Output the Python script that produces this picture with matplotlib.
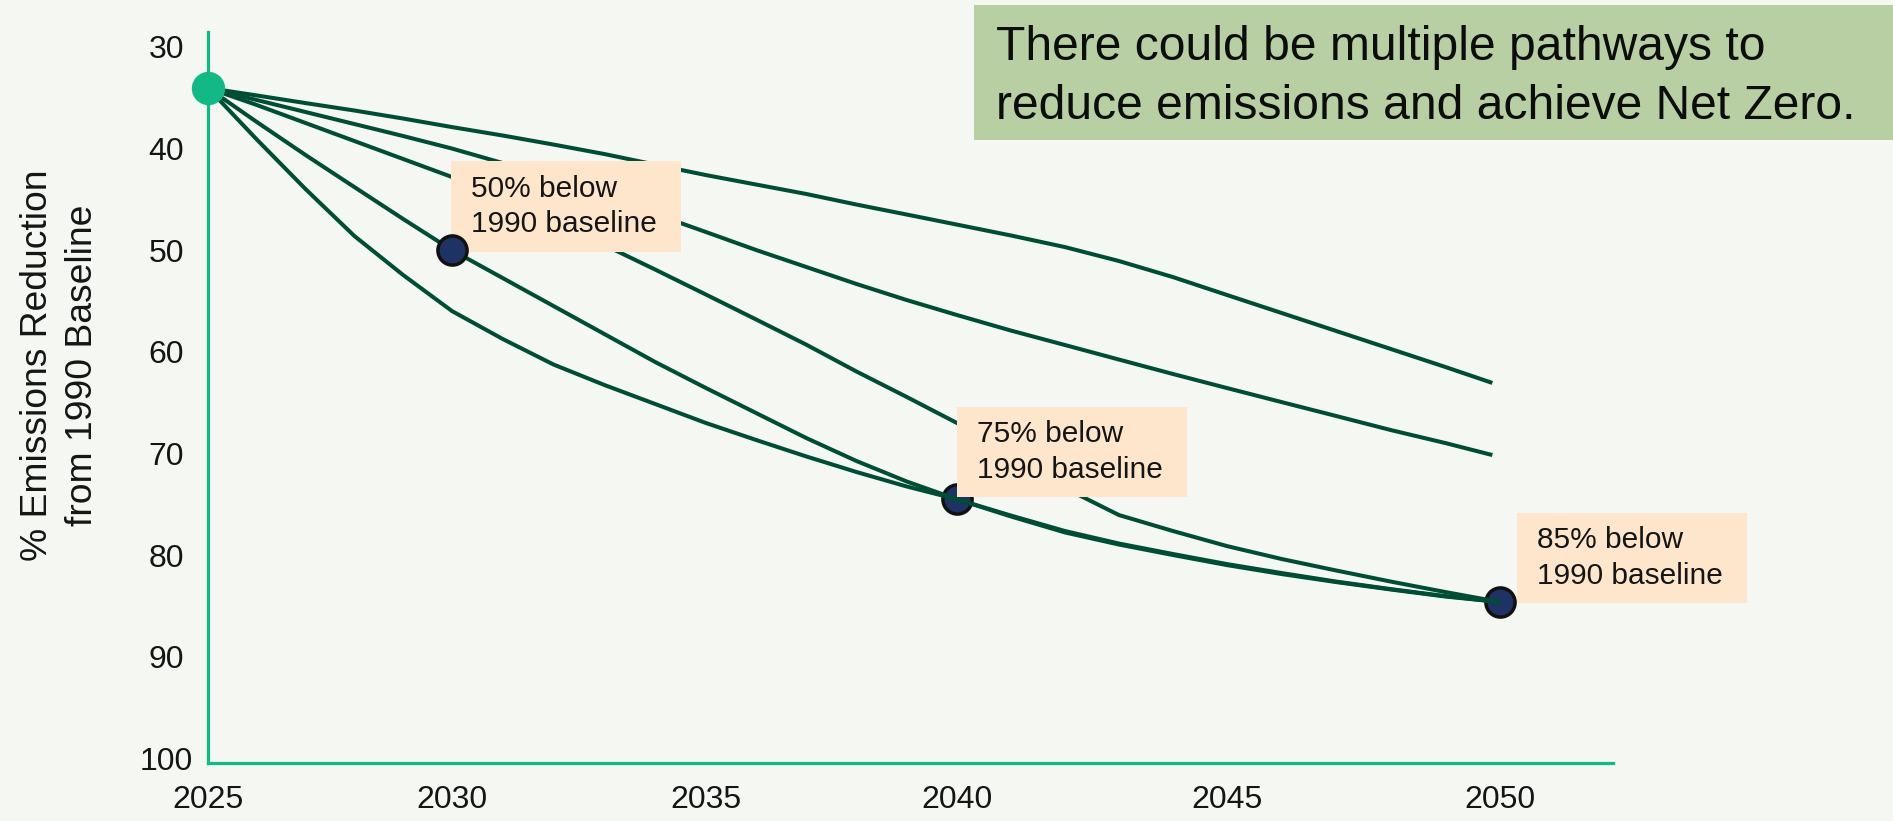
import numpy as np
import matplotlib
matplotlib.use("Agg")
import matplotlib.pyplot as plt
from matplotlib.patches import Rectangle

plt.rcParams["font.family"] = ["Liberation Sans", "DejaVu Sans"]

# ----------------------------------------------------- data
years = list(range(2025, 2051))
end_year_ab = 2049.86          # the two upper pathways stop just short of 2050

path_a = [34.06, 34.79, 35.54, 36.27, 37.06, 37.90, 38.73, 39.62, 40.55, 41.59,
          42.62, 43.55, 44.48, 45.52, 46.50, 47.49, 48.56, 49.70, 51.07, 52.65,
          54.41, 56.18, 57.95, 59.72, 61.49, 63.06]
path_b = [34.06, 35.24, 36.42, 37.60, 38.78, 40.01, 41.44, 43.06, 44.73, 46.45,
          48.22, 49.99, 51.66, 53.33, 54.91, 56.38, 57.91, 59.33, 60.76, 62.18,
          63.56, 64.94, 66.31, 67.69, 68.97, 70.15]
path_c = [34.06, 35.73, 37.50, 39.27, 41.04, 42.81, 44.93, 47.19, 49.50, 51.91,
          54.37, 56.82, 59.30, 61.94, 64.44, 67.00, 70.25, 73.40, 76.05, 77.62,
          79.10, 80.37, 81.50, 82.59, 83.62, 84.60]
path_d = [34.06, 37.40, 40.65, 43.80, 46.94, 50.00, 52.75, 55.50, 58.25, 61.00,
          63.56, 66.02, 68.48, 70.74, 72.75, 74.50, 76.10, 77.62, 78.85, 79.88,
          80.87, 81.75, 82.59, 83.33, 84.02, 84.60]
path_e = [34.06, 39.12, 44.00, 48.61, 52.45, 55.99, 58.74, 61.25, 63.26, 65.13,
          67.00, 68.67, 70.29, 71.82, 73.24, 74.50, 76.19, 77.76, 78.95, 79.98,
          80.97, 81.85, 82.64, 83.37, 84.06, 84.60]

start_year, start_val = 2025, 34.06
target_years = [2030, 2040, 2050]
target_vals = [50.0, 74.5, 84.6]
target_labels = ["50% below\n1990 baseline", "75% below\n1990 baseline",
                 "85% below\n1990 baseline"]

x_ticks = [2025, 2030, 2035, 2040, 2045, 2050]
y_ticks = [30, 40, 50, 60, 70, 80, 90, 100]

title = "There could be multiple pathways to\nreduce emissions and achieve Net Zero."
y_title = "% Emissions Reduction\nfrom 1990 Baseline"

# ----------------------------------------------------- style
BG = "#f4f7f2"
AXIS_GREEN = "#12b886"
LINE_GREEN = "#004d36"
NAVY = "#1f3264"
PEACH = "#fee6cd"
SAGE = "#b8cfa3"
TXT = "#151515"

W, H, DPI = 1893, 821, 100
fig = plt.figure(figsize=(W / DPI, H / DPI), dpi=DPI, facecolor=BG)


def fx(px):
    return px / W


def fy(py):
    return 1 - py / H


ax = fig.add_axes([fx(208), fy(763), fx(1613 - 208), (763 - 32) / H])
ax.set_facecolor(BG)

# the drawn year axis is not evenly spaced in the original slide
knot_years = [2020, 2025, 2030, 2035, 2040, 2045, 2050, 2055]
knot_pos = [-244, 0, 244, 498, 749, 1019, 1292, 1565]
ax.set_xscale("function", functions=(lambda x: np.interp(x, knot_years, knot_pos),
                                     lambda p: np.interp(p, knot_pos, knot_years)))
ax.set_xlim(2025, 2052.07)
ax.set_ylim(100.43, 28.55)

years_ab = years[:-1] + [end_year_ab]
for ys, vs in [(years_ab, path_a), (years_ab, path_b), (years, path_c),
               (years, path_d), (years, path_e)]:
    ax.plot(ys, vs, color=LINE_GREEN, lw=2.9, solid_capstyle="butt",
            solid_joinstyle="round", zorder=2)

# 2040 / 2050 markers sit under the lines, 2030 on top
ax.plot(target_years[1:], target_vals[1:], "o", ms=21, mfc=NAVY, mec="#111111",
        mew=2.5, zorder=1, clip_on=False)
ax.plot(target_years[:1], target_vals[:1], "o", ms=21, mfc=NAVY, mec="#111111",
        mew=2.5, zorder=4, clip_on=False)
ax.plot([start_year], [start_val], "o", ms=24, mfc=AXIS_GREEN, mec="none",
        zorder=4, clip_on=False)

# label boxes (pixel boxes from the slide)
boxes = [(451, 161, 681, 252), (957, 407, 1187, 497), (1517, 513, 1747, 603)]
for (x0, y0, x1, y1), lab in zip(boxes, target_labels):
    ax.add_patch(Rectangle((fx(x0), fy(y1)), fx(x1 - x0), (y1 - y0) / H,
                           transform=fig.transFigure, fc=PEACH, ec="none",
                           zorder=3, clip_on=False))
    ax.text(fx(x0 + 20), fy((y0 + y1) / 2), lab, transform=fig.transFigure,
            ha="left", va="center", fontsize=21.5, color=TXT, linespacing=1.35,
            zorder=5)

# title box
fig.patches.append(Rectangle((fx(974), fy(140)), fx(W - 974), 135 / H,
                             transform=fig.transFigure, fc=SAGE, ec="none"))
fig.text(fx(996), fy(77), title, ha="left", va="center", fontsize=34.6,
         color="#0d0d0d", linespacing=1.42)

# axes
for s in ["top", "right"]:
    ax.spines[s].set_visible(False)
for s in ["left", "bottom"]:
    ax.spines[s].set_color(AXIS_GREEN)
    ax.spines[s].set_linewidth(2.3)
    ax.spines[s].set_zorder(0.5)

ax.set_xticks(x_ticks)
ax.set_xticklabels([str(t) for t in x_ticks])
ax.set_yticks(y_ticks)
ax.set_yticklabels([str(t) for t in y_ticks])
ax.tick_params(axis="both", length=0, labelsize=23, labelcolor=TXT)
ax.tick_params(axis="x", pad=16)
ax.tick_params(axis="y", pad=30)
for lbl in ax.get_yticklabels():
    lbl.set_horizontalalignment("center")

fig.text(fx(60), fy(365), y_title, rotation=90, ha="center", va="center",
         fontsize=26.8, color=TXT, linespacing=1.34, multialignment="center")

fig.savefig("out.png", dpi=DPI, facecolor=BG)
